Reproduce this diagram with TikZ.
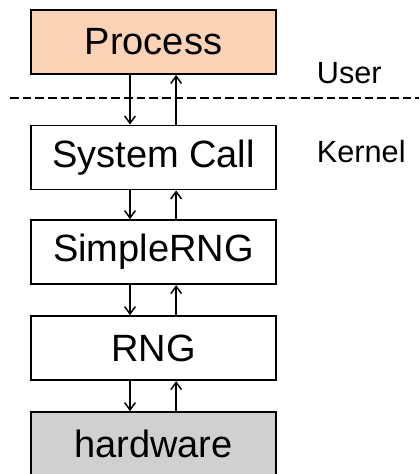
\documentclass[tikz,border=0pt]{standalone}
\usepackage{fontspec}
\setmainfont{Liberation Sans}
\usetikzlibrary{arrows.meta}

\definecolor{procfill}{HTML}{FAD3B7}
\definecolor{hwfill}{HTML}{D0D0D0}

\tikzstyle{block} = [rectangle, draw, line width=1.4pt, fill=white, minimum width=183.75pt, minimum height=48pt, inner sep=0pt, font=\fontsize{28.5}{32}\selectfont]
\tikzstyle{arrow} = [draw, line width=1.1pt, -{Straight Barb[length=5.5pt,width=8pt]}]
\tikzstyle{line} = [draw, line width=1.4pt, dash pattern=on 6.5pt off 3pt]
\tikzstyle{side} = [anchor=west, inner sep=0pt, font=\fontsize{23}{26}\selectfont]

\begin{document}
\begin{tikzpicture}[node distance=72pt, auto]
    \useasboundingbox (0,0) rectangle (314.25pt,-355.5pt);

    \node[block, fill=procfill] at (115.1pt,-31.5pt) (proc) {Process};
    \node[block, below of=proc, node distance=86.6pt] (syscall) {System Call};
    \node[block, below of=syscall, node distance=71pt] (simple) {SimpleRNG};
    \node[block, below of=simple] (rng) {RNG};
    \node[block, below of=rng, fill=hwfill] (hw) {hardware};

    % user / kernel split
    \coordinate (splitL) at (7.5pt,-73.5pt);
    \coordinate (splitR) at (314.25pt,-73.5pt);
    \draw [line] (splitL) -- (splitR);
    \node[side] at (237.5pt,-54.5pt) (user) {User};
    \node[side] at (237.5pt,-114pt) (kernel) {Kernel};

    % lines
    \draw [arrow] ([xshift=-17.6pt]proc.south) to ([xshift=-17.6pt]syscall.north);
    \draw [arrow] ([xshift=17pt]syscall.north) to ([xshift=17pt]proc.south);
    \draw [arrow] ([xshift=-17.6pt]syscall.south) to ([xshift=-17.6pt]simple.north);
    \draw [arrow] ([xshift=17pt]simple.north) to ([xshift=17pt]syscall.south);
    \draw [arrow] ([xshift=-17.6pt]simple.south) to ([xshift=-17.6pt]rng.north);
    \draw [arrow] ([xshift=17pt]rng.north) to ([xshift=17pt]simple.south);
    \draw [arrow] ([xshift=-17.6pt]rng.south) to ([xshift=-17.6pt]hw.north);
    \draw [arrow] ([xshift=17pt]hw.north) to ([xshift=17pt]rng.south);
\end{tikzpicture}
\end{document}
